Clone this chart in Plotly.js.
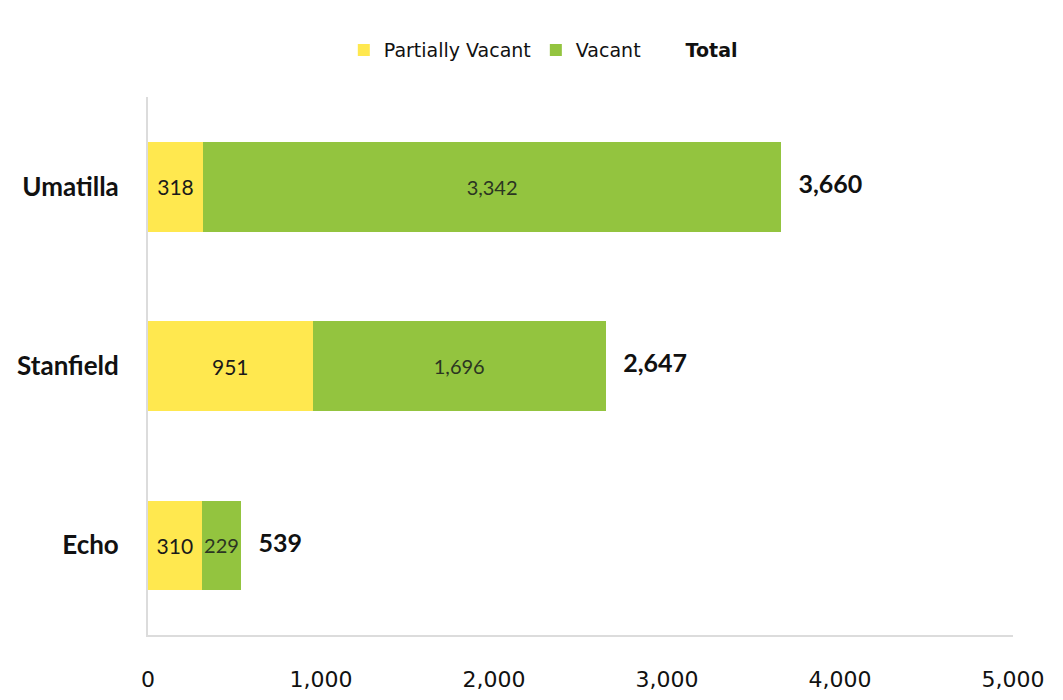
<!DOCTYPE html>
<html>
<head>
<meta charset="utf-8">
<script src="https://cdn.plot.ly/plotly-3.0.1.min.js"></script>
<style>
  html, body { margin: 0; padding: 0; background: #ffffff; }
  #chart { width: 1063px; height: 700px; }
</style>
</head>
<body>
<div id="chart"></div>
<script>
// Vacant land by city (acres)
const cities = ['Echo', 'Stanfield', 'Umatilla'];
const partiallyVacant = [310, 951, 318];
const vacant = [229, 1696, 3342];
const totals = [539, 2647, 3660];
const xTicks = [0, 1000, 2000, 3000, 4000, 5000];
const xTickLabels = ['0', '1,000', '2,000', '3,000', '4,000', '5,000'];

const fmt = v => v.toLocaleString('en-US');
const labelFont = 'Lato, "Open Sans", sans-serif';
const wideFont = '"DejaVu Sans", Verdana, sans-serif';

const traces = [
  {
    type: 'bar', orientation: 'h', name: 'Partially Vacant',
    y: cities, x: partiallyVacant,
    marker: { color: '#FFE84F' },
    text: partiallyVacant.map(fmt), textposition: 'inside', insidetextanchor: 'middle',
    textangle: 0, constraintext: 'none',
    textfont: { family: labelFont, size: 21, color: '#1a1a1a' },
    hoverinfo: 'x+name'
  },
  {
    type: 'bar', orientation: 'h', name: 'Vacant',
    y: cities, x: vacant,
    marker: { color: '#93C43F' },
    text: vacant.map(fmt), textposition: 'inside', insidetextanchor: 'middle',
    textangle: 0, constraintext: 'none',
    textfont: { family: labelFont, size: 20, color: '#2b3522' },
    hoverinfo: 'x+name'
  },
  {
    type: 'scatter', mode: 'markers+text', name: '<b>Total</b>',
    y: cities, x: totals,
    marker: { size: 26, color: 'rgba(0,0,0,0)' },
    text: totals.map(v => '<b>' + fmt(v) + '</b>'), textposition: 'middle right',
    textfont: { family: labelFont, size: 25, color: '#111111' },
    cliponaxis: false,
    hoverinfo: 'x+name'
  }
];

const layout = {
  width: 1063, height: 700,
  margin: { l: 148, r: 50, t: 97, b: 65 },
  paper_bgcolor: '#ffffff', plot_bgcolor: '#ffffff',
  barmode: 'stack', bargap: 0.5,
  showlegend: true,
  legend: {
    orientation: 'h', x: 0.457, xanchor: 'center', y: 1.087, yanchor: 'middle',
    font: { family: wideFont, size: 19, color: '#111111' },
    itemwidth: 30, traceorder: 'normal'
  },
  xaxis: {
    range: [0, 5000], tickvals: xTicks, ticktext: xTickLabels,
    showgrid: false, zeroline: false,
    showline: true, linecolor: '#dcdcdc', linewidth: 2,
    ticks: '', ticklabelstandoff: 24,
    tickfont: { family: wideFont, size: 22, color: '#111111' },
    fixedrange: true
  },
  yaxis: {
    range: [-0.5, 2.5], categoryorder: 'array', categoryarray: cities,
    showgrid: false, zeroline: false,
    showline: true, linecolor: '#dcdcdc', linewidth: 2,
    ticks: '', ticklabelstandoff: 22,
    tickfont: { family: labelFont, size: 26, color: '#111111', weight: 'bold' },
    fixedrange: true
  }
};

Plotly.newPlot('chart', traces, layout, { displayModeBar: false, staticPlot: true });
</script>
</body>
</html>
